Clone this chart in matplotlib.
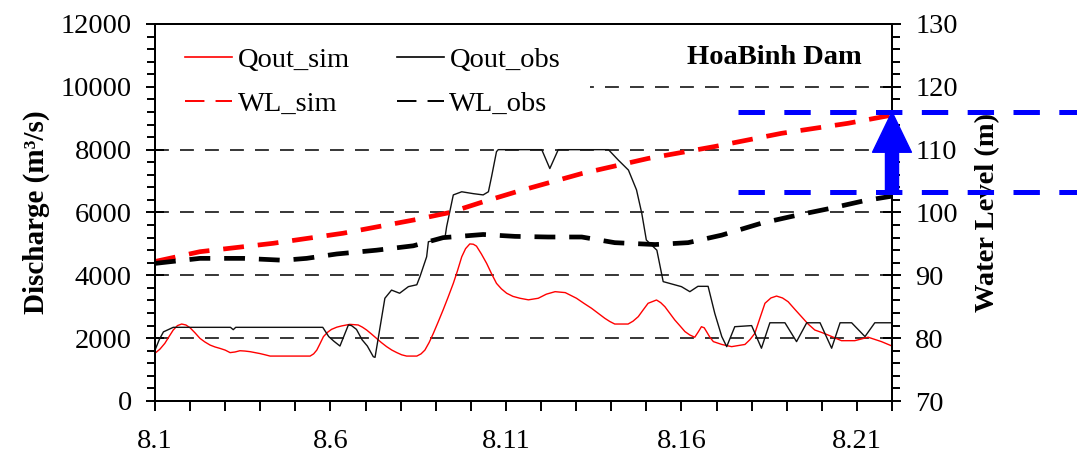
import matplotlib
matplotlib.use("Agg")
import matplotlib.pyplot as plt
import matplotlib.transforms as mtransforms
from matplotlib.lines import Line2D
from matplotlib.patches import Rectangle
from matplotlib.ticker import MultipleLocator, FixedLocator, FixedFormatter

plt.rcParams["font.family"] = ["Liberation Serif", "DejaVu Serif"]
plt.rcParams["font.size"] = 20.5
plt.rcParams["lines.scale_dashes"] = False

# ---- data (day of August) ----
qsim_day = [1.00, 1.14, 1.28, 1.40, 1.52, 1.64, 1.76, 1.88, 2.00, 2.14, 2.28, 2.42, 2.57, 2.71,
            2.85, 3.00, 3.14, 3.28, 3.42, 3.56, 3.71, 3.85, 3.99, 4.14, 4.28, 4.66, 5.00, 5.42,
            5.52, 5.61, 5.70, 5.80, 5.92, 6.03, 6.18, 6.32, 6.55, 6.79, 6.91, 7.03, 7.17, 7.31,
            7.45, 7.60, 7.75, 7.89, 8.03, 8.17, 8.46, 8.58, 8.69, 8.81, 8.93, 9.07, 9.21, 9.35,
            9.50, 9.62, 9.74, 9.85, 9.97, 10.07, 10.16, 10.30, 10.45, 10.59, 10.73, 10.87, 11.02,
            11.20, 11.40, 11.64, 11.92, 12.15, 12.40, 12.69, 13.01, 13.22, 13.44, 13.63, 13.82,
            13.96, 14.10, 14.48, 14.62, 14.77, 14.91, 15.05, 15.29, 15.41, 15.53, 15.67, 15.81,
            15.96, 16.10, 16.24, 16.38, 16.48, 16.57, 16.65, 16.72, 16.81, 16.91, 17.15, 17.43,
            17.81, 17.95, 18.09, 18.24, 18.38, 18.55, 18.71, 18.88, 19.04, 19.23, 19.42, 19.61,
            19.80, 20.00, 20.18, 20.37, 20.56, 20.94, 21.32, 21.70, 22.00]
qsim = [1520, 1650, 1835, 2050, 2260, 2400, 2450, 2420, 2330, 2170, 1995, 1880, 1780, 1720,
        1675, 1620, 1540, 1560, 1600, 1590, 1570, 1540, 1510, 1470, 1430, 1430, 1430, 1430,
        1500, 1620, 1820, 2050, 2190, 2280, 2350, 2390, 2440, 2420, 2350, 2260, 2130, 1995,
        1860, 1730, 1620, 1540, 1470, 1430, 1430, 1500, 1620, 1860, 2150, 2520, 2900, 3300,
        3745, 4150, 4590, 4850, 5000, 4990, 4930, 4680, 4380, 4050, 3745, 3570, 3430,
        3330, 3270, 3220, 3270, 3400, 3480, 3450, 3270, 3110, 2950, 2790, 2630,
        2530, 2450, 2450, 2540, 2685, 2900, 3110, 3215, 3130, 3000, 2790, 2580,
        2390, 2210, 2100, 2030, 2200, 2365, 2330, 2200, 2030, 1890, 1800, 1730,
        1800, 1950, 2150, 2650, 3110, 3280, 3340, 3280, 3160, 2920, 2685, 2450,
        2260, 2180, 2100, 2010, 1920, 1920, 2030, 1890, 1750]

qobs_day = [1.00, 1.12, 1.24, 1.52, 3.15, 3.23, 3.30, 5.78, 5.95, 6.10, 6.27, 6.51, 6.60, 6.74,
            6.90, 7.05, 7.22, 7.27, 7.55, 7.74, 7.97, 8.22, 8.46, 8.55, 8.74, 8.79, 9.03, 9.26,
            9.31, 9.50, 9.74, 10.07, 10.35, 10.50, 10.59, 10.73, 10.78, 12.02, 12.25, 12.49,
            13.92, 14.20, 14.49, 14.72, 14.87, 15.00, 15.30, 15.48, 16.00, 16.24, 16.47, 16.76,
            16.95, 17.15, 17.29, 17.52, 18.00, 18.28, 18.52, 18.95, 19.28, 19.57, 19.95, 20.28,
            20.52, 20.85, 21.23, 21.51, 22.00]
qobs = [1620, 1950, 2200, 2345, 2345, 2270, 2345, 2345, 2050, 1900, 1750, 2420, 2400, 2280,
        1950, 1750, 1410, 1390, 3270, 3530, 3430, 3640, 3700, 3960, 4590, 5070, 5125, 5180,
        5550, 6560, 6660, 6600, 6560, 6660, 7140, 7935, 8000, 8000, 7400, 8000,
        8000, 7670, 7350, 6720, 5975, 5125, 4800, 3800, 3640, 3480, 3650, 3650,
        2790, 2050, 1730, 2365, 2400, 1680, 2490, 2490, 1890, 2490, 2490, 1680,
        2490, 2490, 2050, 2490, 2490]

wlsim_day = [1.0, 2.28, 4.37, 6.36, 8.46, 9.4, 10.35, 11.3, 13.16, 15.05, 16.95, 18.85, 20.75, 22.0]
wlsim = [92.2, 93.76, 95.1, 96.7, 98.9, 100.0, 101.7, 103.3, 106.2, 108.6, 110.5, 112.6, 114.2, 115.5]

wlobs_day = [1.0, 2.28, 3.52, 4.66, 5.32, 6.18, 7.31, 8.36, 9.21, 10.35, 11.26, 12.2, 13.16,
             14.1, 15.25, 16.19, 17.15, 18.28, 19.32, 20.28, 21.23, 22.0]
wlobs = [91.9, 92.7, 92.7, 92.4, 92.7, 93.4, 94.0, 94.7, 96.0, 96.5, 96.2, 96.1, 96.1,
         95.2, 94.9, 95.2, 96.4, 98.3, 99.6, 100.7, 101.9, 102.6]

tick_days = [1, 6, 11, 16, 21]
tick_labels = ["8.1", "8.6", "8.11", "8.16", "8.21"]
day_range = (1, 22)
band_levels = [103.3, 116.0]   # end-of-period water level gap (m)

# ---- figure ----
W, H = 1077, 459
fig = plt.figure(figsize=(W / 100, H / 100), dpi=100)
ax = fig.add_axes([155 / W, 1 - 401 / H, 737 / W, 377 / H])
ax2 = ax.twinx()

grid_dash = (0, (10, 8))
ax.set_xlim(*day_range)
ax.set_ylim(0, 12000)
ax2.set_ylim(70, 130)

ax.yaxis.set_major_locator(MultipleLocator(2000))
ax.yaxis.set_minor_locator(MultipleLocator(400))
ax2.yaxis.set_major_locator(MultipleLocator(10))
ax2.yaxis.set_minor_locator(MultipleLocator(2))
ax.xaxis.set_major_locator(FixedLocator(tick_days))
ax.xaxis.set_major_formatter(FixedFormatter(tick_labels))
ax.xaxis.set_minor_locator(MultipleLocator(1))

ax.grid(axis="y", which="major", color="black", linestyle=grid_dash, linewidth=1.1)

for a in (ax, ax2):
    for s in a.spines.values():
        s.set_linewidth(1.4)
ax.tick_params(axis="y", which="major", direction="inout", length=13.5, width=1.4, pad=10)
ax.tick_params(axis="y", which="minor", direction="out", length=6, width=1.4)
ax2.tick_params(axis="y", which="major", direction="inout", length=13.5, width=1.4, pad=10)
ax2.tick_params(axis="y", which="minor", direction="out", length=6, width=1.4)
ax.tick_params(axis="x", which="both", direction="out", length=7, width=1.4, pad=13)

# white area behind the legend
ax.add_patch(Rectangle((0, 0.73), (590 - 155) / 737, 0.26, transform=ax.transAxes,
                       facecolor="white", edgecolor="none", zorder=1.8))

ax.plot(qsim_day, qsim, color="#ff0000", lw=1.0, zorder=3)
ax.plot(qobs_day, qobs, color="#111111", lw=1.0, zorder=3)
ax2.plot(wlsim_day, wlsim, color="#ff0000", lw=3.4, linestyle=(0, (15, 10)))
ax2.plot(wlobs_day, wlobs, color="black", lw=3.4, linestyle=(0, (15, 10)))

ax.set_ylabel("Discharge (m³/s)", fontweight="bold", fontsize=21)
ax.yaxis.set_label_coords((50 - 155) / 737, 0.5)
ax2.set_ylabel("Water Level (m)", fontweight="bold")
ax2.yaxis.set_label_coords((975 - 155) / 737, 0.5)

ax.text(0.959, 0.912, "HoaBinh Dam", transform=ax.transAxes, ha="right", va="center",
        fontweight="bold")

handles = [
    Line2D([], [], color="#ff0000", lw=1.2),
    Line2D([], [], color="#ff0000", lw=1.4, linestyle=(0, (14, 8))),
    Line2D([], [], color="black", lw=1.2),
    Line2D([], [], color="black", lw=1.4, linestyle=(0, (14, 8))),
]
labels = ["Qout_sim", "WL_sim", "Qout_obs", "WL_obs"]
ax2.legend(handles, labels, ncol=2, loc="upper left", bbox_to_anchor=((185 - 155) / 737, 0.939),
           frameon=False, borderpad=0, borderaxespad=0, handlelength=1.65, handletextpad=0.2,
           columnspacing=1.65, labelspacing=0.63)

# band marking the gap between simulated and observed final levels
blend = mtransforms.blended_transform_factory(fig.transFigure, ax2.transData)
for lvl in band_levels:
    ax2.add_line(Line2D([738 / W, 1.0], [lvl, lvl], transform=blend, color="#0000ff", lw=3.6,
                        linestyle=(0, (19, 14)), clip_on=False, zorder=10))
ax2.annotate("", xy=(day_range[1], band_levels[1]), xytext=(day_range[1], band_levels[0]),
             xycoords="data", annotation_clip=False,
             arrowprops=dict(facecolor="#0000ff", edgecolor="#0000ff", width=9.4,
                             headwidth=28, headlength=29, shrink=0), zorder=11)

fig.savefig("out.png", dpi=100)
